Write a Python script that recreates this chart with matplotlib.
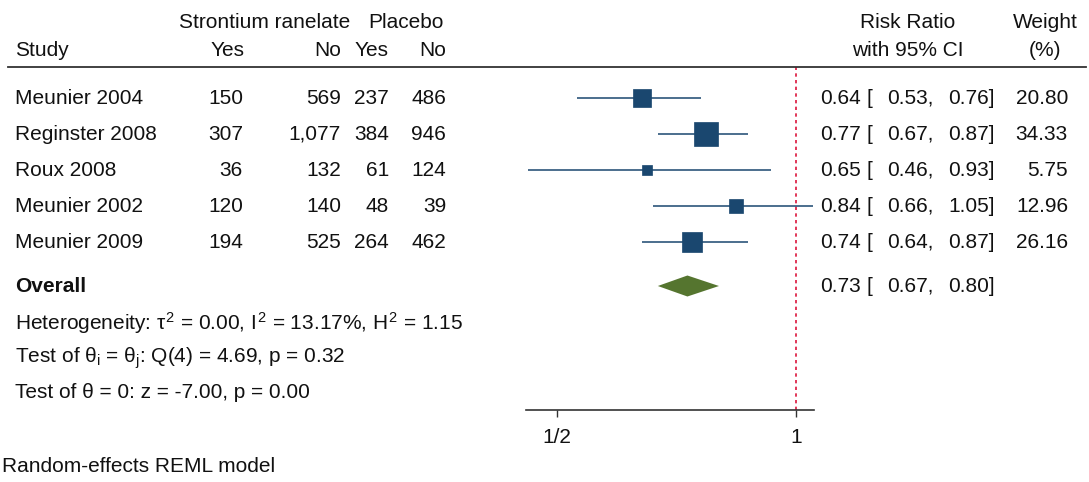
import matplotlib
matplotlib.use("Agg")
import numpy as np
import matplotlib.pyplot as plt
from matplotlib.ticker import FixedLocator, FixedFormatter, NullLocator

plt.rcParams["font.family"] = ["Liberation Sans", "DejaVu Sans"]
plt.rcParams["mathtext.fontset"] = "custom"
plt.rcParams["mathtext.rm"] = "Liberation Sans"
plt.rcParams["mathtext.it"] = "Liberation Sans"
plt.rcParams["mathtext.bf"] = "Liberation Sans:bold"

# --- study data ---
studies = ["Meunier 2004", "Reginster 2008", "Roux 2008", "Meunier 2002", "Meunier 2009"]
sr_yes = [150, 307, 36, 120, 194]
sr_no = [569, 1077, 132, 140, 525]
pl_yes = [237, 384, 61, 48, 264]
pl_no = [486, 946, 124, 39, 462]
rr = [0.64, 0.77, 0.65, 0.84, 0.74]
rr_lo = [0.53, 0.67, 0.46, 0.66, 0.64]
rr_hi = [0.76, 0.87, 0.93, 1.05, 0.87]
weight = [20.80, 34.33, 5.75, 12.96, 26.16]

# pooled estimate + heterogeneity stats
overall = 0.73
overall_lo = 0.67
overall_hi = 0.80
tau2, i2, h2 = 0.00, 13.17, 1.15
q_stat, q_df, q_p = 4.69, 4, 0.32
z_stat, z_p = -7.00, 0.00

W, H = 1089, 482
FS = 15
TXT = "#111111"
NAVY = "#1a476f"
GREEN = "#55752f"
RED = "#dc143c"


def fx(px):
    return px / W


def fy(py):
    return 1 - py / H


def put(px, py, s, ha="left", **kw):
    fig.text(fx(px), fy(py), s, ha=ha, va="center", fontsize=FS, color=TXT, **kw)


fig = plt.figure(figsize=(W / 100, H / 100), dpi=100)

# header
put(265, 22, "Strontium ranelate", ha="center")
put(406, 22, "Placebo", ha="center")
put(908, 22, "Risk Ratio", ha="center")
put(1045, 22, "Weight", ha="center")
put(15, 51, "Study")
put(245, 51, "Yes", ha="right")
put(341, 51, "No", ha="right")
put(389, 51, "Yes", ha="right")
put(446, 51, "No", ha="right")
put(908, 51, "with 95% CI", ha="center")
put(1045, 51, "(%)", ha="center")
fig.add_artist(plt.Line2D([fx(8), fx(1086)], [fy(67), fy(67)], color="#333333", lw=1.3))

row_top, row_step = 98, 36
row_y = row_top + row_step * np.arange(len(studies))
overall_y = row_y[-1] + 44


def ci_text(y, est, lo, hi):
    put(861, y, f"{est:.2f}", ha="right")
    put(866, y, "[")
    put(934, y, f"{lo:.2f},", ha="right")
    put(995, y, f"{hi:.2f}]", ha="right")


for i, y in enumerate(row_y):
    put(15, y, studies[i])
    put(243, y, f"{sr_yes[i]:,}", ha="right")
    put(341, y, f"{sr_no[i]:,}", ha="right")
    put(389, y, f"{pl_yes[i]:,}", ha="right")
    put(446, y, f"{pl_no[i]:,}", ha="right")
    ci_text(y, rr[i], rr_lo[i], rr_hi[i])
    put(1068, y, f"{weight[i]:.2f}", ha="right")

put(15, overall_y, "Overall", fontweight="bold")
ci_text(overall_y, overall, overall_lo, overall_hi)

put(15, overall_y + 37,
    rf"Heterogeneity: $\tau^2$ = {tau2:.2f}, $I^2$ = {i2:.2f}%, $H^2$ = {h2:.2f}")
put(15, overall_y + 72,
    rf"Test of $\theta_i$ = $\theta_j$: Q({q_df}) = {q_stat:.2f}, p = {q_p:.2f}")
put(15, overall_y + 107, f"Test of θ = 0: z = {z_stat:.2f}, p = {z_p:.2f}")
put(2, 466, "Random-effects REML model")

# forest panel
ax = fig.add_axes([fx(526), fy(410), (814 - 526) / W, (410 - 67) / H])
ax.set_xscale("log", base=2)
ax.set_xlim(0.457, 1.054)
ax.set_ylim(410, 67)
for s in ["left", "right", "top"]:
    ax.spines[s].set_visible(False)
ax.spines["bottom"].set_color("#333333")
ax.spines["bottom"].set_linewidth(1.2)
ax.yaxis.set_major_locator(NullLocator())
ax.xaxis.set_major_locator(FixedLocator([0.5, 1]))
ax.xaxis.set_major_formatter(FixedFormatter(["1/2", "1"]))
ax.xaxis.set_minor_locator(NullLocator())
ax.tick_params(axis="x", length=5, width=1, color="#333333", labelsize=FS,
               labelcolor=TXT, pad=8)
ax.patch.set_alpha(0)

ax.axvline(1, color=RED, lw=1.2, ls=(0, (2, 2)), zorder=1)
ax.hlines(row_y, rr_lo, rr_hi, color=NAVY, lw=1.1, zorder=2, clip_on=False)
for i, y in enumerate(row_y):
    ax.plot(rr[i], y, "s", color=NAVY, mec=NAVY, mew=0.5,
            ms=4.1 * np.sqrt(weight[i]) * 0.72, zorder=3)

half_h = 10.5
ax.fill([overall_lo, overall, overall_hi, overall],
        [overall_y, overall_y - half_h, overall_y, overall_y + half_h],
        color=GREEN, lw=0, zorder=3)

plt.savefig("out.png", dpi=100)
